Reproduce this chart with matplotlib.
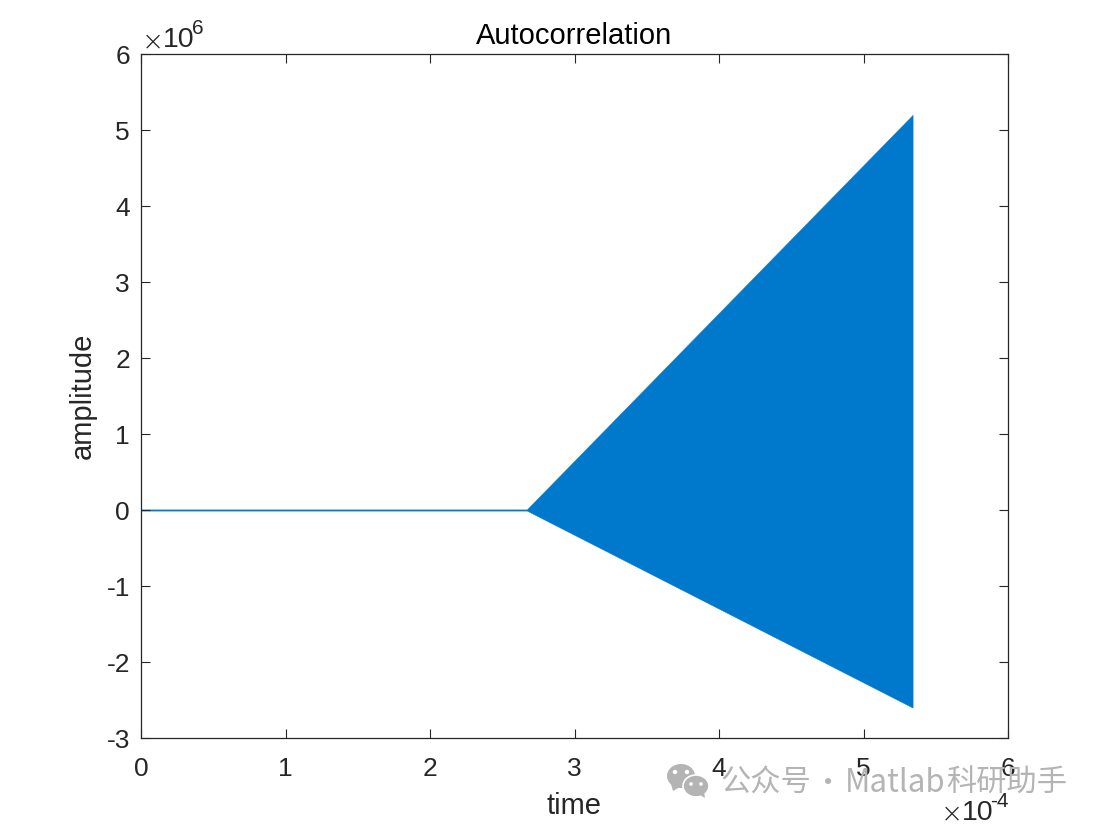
import matplotlib
matplotlib.use("Agg")
import matplotlib.pyplot as plt
from matplotlib.patches import Ellipse, Polygon
from matplotlib.ticker import FixedLocator, FixedFormatter

plt.rcParams['font.family'] = ['Liberation Sans', 'DejaVu Sans']

time_e4 = [0.0, 2.67, 5.34]
upper_e6 = [0.008, 0.008, 5.2]
lower_e6 = [-0.008, -0.008, -2.6]
x_ticks = [0, 1, 2, 3, 4, 5, 6]
y_ticks = [-3, -2, -1, 0, 1, 2, 3, 4, 5, 6]
title = "Autocorrelation"
x_label = "time"
y_label = "amplitude"
watermark_parts = ["公众号", "·", "Matlab", "科研助手"]

W, H = 1106, 825
INK = '#262626'
BLUE = '#0079CC'
fig = plt.figure(figsize=(W / 100, H / 100), dpi=100, facecolor='white')
ax = fig.add_axes([141 / W, 1 - 738 / H, (1008 - 141) / W, (738 - 54) / H])
ax.fill_between(time_e4, lower_e6, upper_e6, color=BLUE, lw=0.3)
ax.set_xlim(0, 6)
ax.set_ylim(-3, 6)
ax.xaxis.set_major_locator(FixedLocator(x_ticks))
ax.xaxis.set_major_formatter(FixedFormatter([str(v) for v in x_ticks]))
ax.yaxis.set_major_locator(FixedLocator(y_ticks))
ax.yaxis.set_major_formatter(FixedFormatter([str(v) for v in y_ticks]))
ax.tick_params(direction='in', length=6.2, width=0.8, colors=INK, labelsize=19,
               top=True, right=True)
ax.tick_params(axis='x', pad=13.5)
ax.tick_params(axis='y', pad=8)
for s in ax.spines.values():
    s.set_linewidth(0.9)
    s.set_color(INK)


def px(x, y, s, **kw):
    kw.setdefault('color', INK)
    return fig.text(x / W, 1 - y / H, s, **kw)


px(574, 36, title, fontsize=21, color='black', ha='center', va='center')
px(574, 806, x_label, fontsize=21, ha='center', va='center')
px(83, 396, y_label, fontsize=21, ha='center', va='center', rotation=90)

# axis exponents
px(142, 49, "×", fontsize=19, ha='left', va='baseline', fontfamily='DejaVu Sans', fontweight='light')
px(163, 47, "10", fontsize=20.5, ha='left', va='baseline')
px(192, 34, "6", fontsize=15, ha='left', va='baseline')
px(941, 821, "×", fontsize=19, ha='left', va='baseline', fontfamily='DejaVu Sans', fontweight='light')
px(962, 820, "10", fontsize=20.5, ha='left', va='baseline')
px(990, 807, "-4", fontsize=15, ha='left', va='baseline')

# watermark
GRAY = '#B4B4B4'
overlay = fig.add_axes([0, 0, 1, 1], facecolor='none')
overlay.set_xlim(0, W)
overlay.set_ylim(H, 0)
overlay.axis('off')
overlay.add_patch(Ellipse((681, 776), 28, 24, color=GRAY, lw=0))
overlay.add_patch(Polygon([[671, 784], [673, 791], [680, 787]], color=GRAY, lw=0))
overlay.add_patch(Ellipse((696, 786), 26, 22, color=GRAY, ec='white', lw=1.2))
overlay.add_patch(Polygon([[700, 795], [705, 798], [704, 791]], color=GRAY, lw=0))
for cx, cy, r in [(675, 772, 2.2), (687, 772, 2.2), (691, 784, 1.8), (701, 784, 1.8)]:
    overlay.add_patch(Ellipse((cx, cy), r * 2, r * 2, color='white', lw=0))
wm_x = [720, 827, 845, 946]
wm_ha = ['left', 'center', 'left', 'left']
wm_size = [21.8, 21.8, 22.5, 21.8]
for part, x0, ha, size in zip(watermark_parts, wm_x, wm_ha, wm_size):
    px(x0, 783, part, fontsize=size, color=GRAY, ha=ha, va='center',
       fontfamily=['Noto Sans CJK SC', 'DejaVu Sans'])

fig.savefig('out.png', dpi=100)
